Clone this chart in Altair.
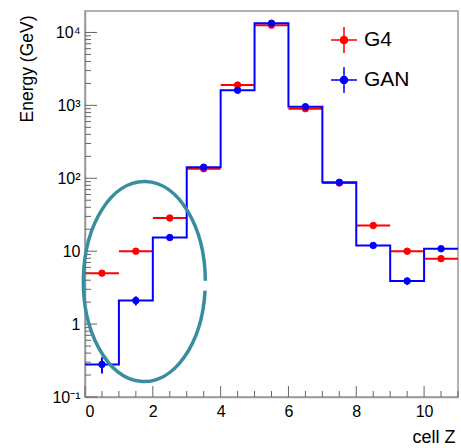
import altair as alt
import pandas as pd
import json

# ---- data ----
bin_centers = [0.5, 1.5, 2.5, 3.5, 4.5, 5.5, 6.5, 7.5, 8.5, 9.5, 10.5]
bin_edges = [0, 1, 2, 3, 4, 5, 6, 7, 8, 9, 10, 11]
g4_values = [5.0, 10.0, 28.5, 135, 1900, 12600, 900, 86, 22.5, 10.0, 7.9]
g4_errors = [0.3, 0.5, 1.2, 3, 25, 100, 12, 2, 0.8, 0.5, 0.6]
gan_values = [0.28, 2.1, 15.4, 142, 1610, 13400, 960, 88, 12.0, 3.9, 10.8]
gan_errors = [0.07, 0.3, 0.7, 3, 20, 100, 12, 2, 0.5, 0.45, 0.8]
series_names = ["G4", "GAN"]
series_colors = ["#ff0000", "#0000ff"]

x_major_ticks = [0, 2, 4, 6, 8, 10]
x_minor_ticks = [0.5, 1, 1.5, 2.5, 3, 3.5, 4.5, 5, 5.5, 6.5, 7, 7.5, 8.5, 9, 9.5, 10.5, 11]
y_major_ticks = [0.1, 1, 10, 100, 1000, 10000]
y_major_labels = ["10\u207b\u00b9", "1", "10", "10\u00b2", "10\u00b3", "10\u2074"]
y_minor_ticks = [m * d for d in [0.1, 1, 10, 100, 1000] for m in range(2, 10)]

ellipse_x = [1.75]
ellipse_y = [3.82]

W, H = 373, 386
FONT = "Liberation Sans"

xscale = alt.Scale(domain=[0, 11], nice=False, zero=False)
yscale = alt.Scale(type="log", domain=[0.1, 19700], nice=False)

# ---- frames ----
g4 = pd.DataFrame({"x": bin_centers, "lo_x": bin_edges[:-1], "hi_x": bin_edges[1:],
                   "y": g4_values,
                   "ylo": [v - e for v, e in zip(g4_values, g4_errors)],
                   "yhi": [v + e for v, e in zip(g4_values, g4_errors)]})
gan = pd.DataFrame({"x": bin_centers, "y": gan_values,
                    "ylo": [v - e for v, e in zip(gan_values, gan_errors)],
                    "yhi": [v + e for v, e in zip(gan_values, gan_errors)]})
step = pd.DataFrame({"x": bin_edges, "y": gan_values + [gan_values[-1]]})
pts = pd.DataFrame({"x": bin_centers * 2, "y": g4_values + gan_values,
                    "series": ["G4"] * len(g4_values) + ["GAN"] * len(gan_values)})

label_expr = "{}[indexof({}, datum.value)]".format(json.dumps(y_major_labels), json.dumps(y_major_ticks))

base_x_axis = alt.Axis(values=x_major_ticks, ticks=False, grid=False, format="d",
                       labelFont=FONT, labelFontSize=16, labelColor="black", labelPadding=6,
                       domainColor="#999", domainWidth=1.5,
                       title="cell Z", titleFont=FONT, titleFontSize=18, titleFontWeight="normal",
                       titleColor="black", titleAlign="right", titleAnchor="end",
                       titleX=370, titleY=45, titleBaseline="alphabetic")
base_y_axis = alt.Axis(values=y_major_ticks, ticks=False, grid=False, labelExpr=label_expr,
                       labelFont=FONT, labelFontSize=16, labelColor="black", labelPadding=5,
                       domainColor="#999", domainWidth=1.5,
                       title="Energy (GeV)", titleFont=FONT, titleFontSize=17.5,
                       titleFontWeight="normal", titleColor="black", titleAngle=270,
                       titleAlign="right", titleBaseline="middle", titleX=-58, titleY=4)

red_bars = alt.Chart(g4).mark_rule(color="#ff0000", strokeWidth=2).encode(
    x=alt.X("lo_x:Q", scale=xscale, axis=base_x_axis),
    x2="hi_x:Q",
    y=alt.Y("y:Q", scale=yscale, axis=base_y_axis),
)
red_err = alt.Chart(g4).mark_rule(color="#ff0000", strokeWidth=2).encode(
    x=alt.X("x:Q", scale=xscale), y=alt.Y("ylo:Q", scale=yscale), y2="yhi:Q")

blue_line = alt.Chart(step).mark_line(color="#0000ff", strokeWidth=2, interpolate="step-after").encode(
    x=alt.X("x:Q", scale=xscale), y=alt.Y("y:Q", scale=yscale))
blue_err = alt.Chart(gan).mark_rule(color="#0000ff", strokeWidth=2).encode(
    x=alt.X("x:Q", scale=xscale), y=alt.Y("ylo:Q", scale=yscale), y2="yhi:Q")

legend_symbol = "M-1,0H1M0,-1V1M0.27,0A0.27,0.27,0,1,1,-0.27,0A0.27,0.27,0,1,1,0.27,0Z"
cscale = alt.Scale(domain=series_names, range=series_colors)
leg = alt.Legend(orient="none", legendX=245, legendY=15, title=None, padding=0,
                 symbolType=legend_symbol, symbolSize=676, symbolStrokeWidth=1.5,
                 symbolOpacity=1, labelFont=FONT, labelFontSize=21, labelColor="black",
                 labelOffset=6, rowPadding=8)
points = alt.Chart(pts).mark_point(shape="circle", filled=True, size=42, opacity=1, strokeWidth=1).encode(
    x=alt.X("x:Q", scale=xscale), y=alt.Y("y:Q", scale=yscale),
    fill=alt.Fill("series:N", scale=cscale, legend=leg),
    stroke=alt.Stroke("series:N", scale=cscale, legend=leg),
)

ellipse_path = "M0.61,-0.01A0.61,1,0,1,0,0.6075,0.09"
ellipse = alt.Chart(pd.DataFrame({"x": ellipse_x, "y": ellipse_y})).mark_point(
    shape=ellipse_path, size=40000, filled=False, stroke="#3a8d9e", strokeWidth=3.5, opacity=1,
    strokeCap="butt").encode(x=alt.X("x:Q", scale=xscale), y=alt.Y("y:Q", scale=yscale))

# inward ticks
xt_major = alt.Chart(pd.DataFrame({"v": x_major_ticks})).mark_rule(color="#666", strokeWidth=1).encode(
    x=alt.X("v:Q", scale=xscale), y=alt.value(H), y2=alt.value(H - 11))
xt_minor = alt.Chart(pd.DataFrame({"v": x_minor_ticks})).mark_rule(color="#666", strokeWidth=1).encode(
    x=alt.X("v:Q", scale=xscale), y=alt.value(H), y2=alt.value(H - 6))
yt_major = alt.Chart(pd.DataFrame({"v": y_major_ticks})).mark_rule(color="#666", strokeWidth=1).encode(
    y=alt.Y("v:Q", scale=yscale), x=alt.value(0), x2=alt.value(12))
yt_minor = alt.Chart(pd.DataFrame({"v": y_minor_ticks})).mark_rule(color="#666", strokeWidth=1).encode(
    y=alt.Y("v:Q", scale=yscale), x=alt.value(0), x2=alt.value(6))

chart = alt.layer(
    red_bars, xt_major, xt_minor, yt_major, yt_minor,
    red_err, blue_line, blue_err, points, ellipse
).resolve_scale(x="shared", y="shared").properties(
    width=W, height=H,
    autosize=alt.AutoSizeParams(type="none"),
    padding={"left": 85, "top": 11, "right": 3, "bottom": 51},
    background="white",
).configure_view(stroke="#999", strokeWidth=1.5)

chart.save("out.html", embed_options={"renderer": "svg", "actions": False})
